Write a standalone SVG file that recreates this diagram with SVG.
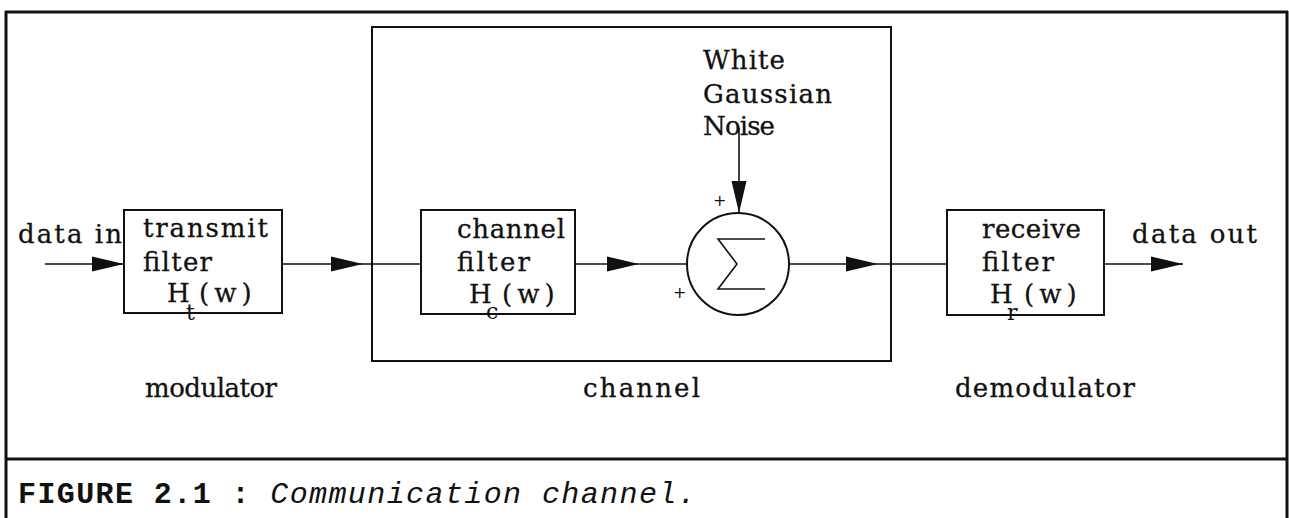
<svg xmlns="http://www.w3.org/2000/svg" xmlns:xlink="http://www.w3.org/1999/xlink" width="1289" height="518" viewBox="0 0 1289 518">
  <style>
    .frame { stroke: #111; stroke-width: 3; fill: none; }
    .box { stroke: #111; stroke-width: 2; fill: none; }
    .wire { stroke: #111; stroke-width: 1.6; fill: none; }
    .lbl { font-family: "DejaVu Serif", "Liberation Serif", serif; font-size: 26px; fill: #111; stroke: #111; stroke-width: 0.3px; }
    .sub { font-size: 22px; stroke-width: 0; }
    .plus { font-family: "DejaVu Sans", "Liberation Sans", sans-serif; font-size: 16px; fill: #111; }
    .cap { font-family: "Liberation Mono", "Courier New", monospace; font-size: 30px; fill: #111; letter-spacing: 1.4px; }
  </style>
  <defs>
    <!-- solid arrowhead, tip at the origin, pointing along +x -->
    <path id="ah" d="M0,0 L-32,-7.5 L-32,7.5 Z" fill="#111"/>
  </defs>

  <rect width="1289" height="518" fill="#fff"/>

  <!-- outer frame and caption rule -->
  <g id="frame">
    <line class="frame" x1="5" y1="12" x2="1288" y2="12"/>
    <line class="frame" x1="6" y1="11" x2="6" y2="518"/>
    <line class="frame" x1="1287" y1="11" x2="1287" y2="518"/>
    <line class="frame" x1="5" y1="459" x2="1288" y2="459"/>
  </g>

  <!-- channel enclosure -->
  <g id="channel">
    <rect class="box" x="372" y="27" width="519" height="334"/>
    <text class="lbl" x="583" y="397" textLength="117" lengthAdjust="spacing">channel</text>
  </g>

  <g id="transmit-filter">
    <rect class="box" x="124" y="210" width="158" height="103"/>
    <text class="lbl" x="143" y="237" textLength="125" lengthAdjust="spacing">transmit</text>
    <text class="lbl" x="143" y="271" textLength="69" lengthAdjust="spacing">filter</text>
    <text class="lbl" y="302"><tspan x="167">H</tspan><tspan class="sub" x="186" dy="18">t</tspan><tspan x="199" dy="-18" letter-spacing="5">(w)</tspan></text>
  </g>

  <g id="modulator-label">
    <text class="lbl" x="145" y="397" textLength="132" lengthAdjust="spacing">modulator</text>
  </g>

  <g id="channel-filter">
    <rect class="box" x="421" y="210" width="154" height="104"/>
    <text class="lbl" x="457" y="238" textLength="108" lengthAdjust="spacing">channel</text>
    <text class="lbl" x="457" y="271" textLength="73" lengthAdjust="spacing">filter</text>
    <text class="lbl" y="303"><tspan x="469">H</tspan><tspan class="sub" x="486" dy="16">c</tspan><tspan x="502" dy="-16" letter-spacing="5">(w)</tspan></text>
  </g>

  <g id="summer">
    <circle class="box" cx="738" cy="264" r="51"/>
    <path class="wire" d="M765,239 H718 L737,264 L718,289 H765"/>
    <text class="plus" x="713" y="206">+</text>
    <text class="plus" x="673" y="298">+</text>
  </g>

  <g id="noise">
    <text class="lbl" x="703" y="69" textLength="82" lengthAdjust="spacing">White</text>
    <text class="lbl" x="703" y="103" textLength="129" lengthAdjust="spacing">Gaussian</text>
    <text class="lbl" x="703" y="135" textLength="72" lengthAdjust="spacing">Noise</text>
  </g>

  <g id="receive-filter">
    <rect class="box" x="947" y="210" width="157" height="105"/>
    <text class="lbl" x="982" y="238" textLength="99" lengthAdjust="spacing">receive</text>
    <text class="lbl" x="982" y="271" textLength="72" lengthAdjust="spacing">filter</text>
    <text class="lbl" y="303"><tspan x="990">H</tspan><tspan class="sub" x="1007" dy="17">r</tspan><tspan x="1024" dy="-17" letter-spacing="5">(w)</tspan></text>
  </g>

  <g id="demodulator-label">
    <text class="lbl" x="955" y="397" textLength="180" lengthAdjust="spacing">demodulator</text>
  </g>

  <g id="io-labels">
    <text class="lbl" x="18" y="243" textLength="104" lengthAdjust="spacing">data in</text>
    <text class="lbl" x="1132" y="243" textLength="125" lengthAdjust="spacing">data out</text>
  </g>

  <!-- signal path -->
  <g id="connectors">
    <line class="wire" x1="45" y1="264" x2="124" y2="264"/>
    <use xlink:href="#ah" x="124" y="264"/>
    <line class="wire" x1="282" y1="264" x2="421" y2="264"/>
    <use xlink:href="#ah" x="363" y="264"/>
    <line class="wire" x1="575" y1="264" x2="687" y2="264"/>
    <use xlink:href="#ah" x="639" y="264"/>
    <line class="wire" x1="739" y1="128" x2="739" y2="213"/>
    <use xlink:href="#ah" transform="translate(739,213) rotate(90)"/>
    <line class="wire" x1="789" y1="264" x2="947" y2="264"/>
    <use xlink:href="#ah" x="878" y="264"/>
    <line class="wire" x1="1104" y1="264" x2="1183" y2="264"/>
    <use xlink:href="#ah" x="1183" y="264"/>
  </g>

  <g id="caption">
    <text class="cap" x="18" y="503"><tspan font-weight="bold">FIGURE 2.1 :</tspan> <tspan font-style="italic">Communication channel.</tspan></text>
  </g>
</svg>
